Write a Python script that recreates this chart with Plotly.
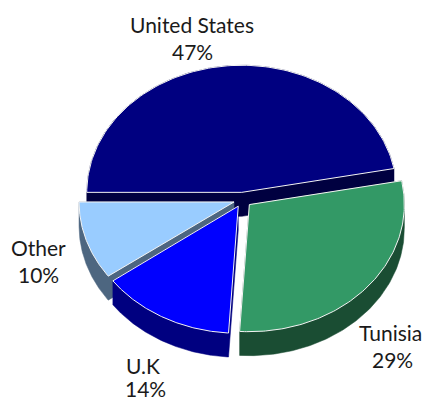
import math
import plotly.graph_objects as go

# Share of total, by country
countries = ["United States", "Tunisia", "U.K", "Other"]
shares = [47, 29, 14, 10]

# Face colours (top) and darker wall colours
top_colors = ["#000080", "#339966", "#0000FF", "#99CCFF"]
side_colors = ["#000040", "#1A4D33", "#000080", "#4D6680"]

# Pie geometry in page pixels (y grows downward)
CX, CY = 242.6, 199.7
RADIUS = 155.0
TILT = 0.82          # vertical squash of the ellipse
DEPTH = 24.0         # thickness of the pie
PULL = 9.0           # explode distance of every slice
START_DEG = 180.0    # first slice starts at the left, slices run clockwise
N_ARC = 120

# Label anchor points (name line, percent line)
label_pos = [
    ((192, 24), (192, 51)),
    ((390, 332), (392, 359)),
    ((143, 365), (145, 388)),
    ((38, 247), (38, 274)),
]


def project(cx, cy, ang_deg, r):
    a = math.radians(ang_deg)
    return cx + r * math.cos(a), cy - r * TILT * math.sin(a)


def hull(points):
    pts = sorted(set(points))
    if len(pts) < 3:
        return pts

    def cross(o, a, b):
        return (a[0] - o[0]) * (b[1] - o[1]) - (a[1] - o[1]) * (b[0] - o[0])

    lower, upper = [], []
    for p in pts:
        while len(lower) >= 2 and cross(lower[-2], lower[-1], p) <= 0:
            lower.pop()
        lower.append(p)
    for p in reversed(pts):
        while len(upper) >= 2 and cross(upper[-2], upper[-1], p) <= 0:
            upper.pop()
        upper.append(p)
    return lower[:-1] + upper[:-1]


total = sum(shares)
slices = []
angle = START_DEG
for i, v in enumerate(shares):
    sweep = 360.0 * v / total
    a0, a1 = angle, angle - sweep
    mid = (a0 + a1) / 2
    vx, vy = project(CX, CY, mid, PULL)
    top = [(vx, vy)]
    for k in range(N_ARC + 1):
        top.append(project(vx, vy, a0 + (a1 - a0) * k / N_ARC, RADIUS))
    depth_key = math.sin(math.radians(mid))
    slices.append((depth_key, i, top))
    angle = a1

fig = go.Figure()

# back slices first so nearer ones are painted over them
for _, i, top in sorted(slices, key=lambda s: -s[0]):
    lowered = [(x, y + DEPTH) for x, y in top]
    body = hull(top + lowered)
    bx = [p[0] for p in body] + [body[0][0]]
    by = [p[1] for p in body] + [body[0][1]]
    fig.add_trace(go.Scatter(
        x=bx, y=by, mode="lines", fill="toself",
        fillcolor=side_colors[i], line=dict(color=side_colors[i], width=0.5),
        hoverinfo="skip", showlegend=False,
    ))
    tx = [p[0] for p in top] + [top[0][0]]
    ty = [p[1] for p in top] + [top[0][1]]
    fig.add_trace(go.Scatter(
        x=tx, y=ty, mode="lines", fill="toself",
        fillcolor=top_colors[i], line=dict(color="#F4F4F4", width=1),
        name=countries[i], hoverinfo="name", showlegend=False,
    ))

annotations = []
for i, (name_xy, pct_xy) in enumerate(label_pos):
    pct = round(100 * shares[i] / total)
    for text, (x, y) in ((countries[i], name_xy), (f"{pct}%", pct_xy)):
        annotations.append(dict(
            x=x, y=y, xref="x", yref="y", text=text, showarrow=False,
            xanchor="center", yanchor="middle",
            font=dict(family="Lato", size=21, color="#1A1A1A"),
        ))

fig.update_layout(
    width=425, height=402,
    margin=dict(l=0, r=0, t=0, b=0),
    paper_bgcolor="white", plot_bgcolor="white",
    xaxis=dict(range=[0, 425], visible=False, fixedrange=True),
    yaxis=dict(range=[402, 0], visible=False, fixedrange=True),
    annotations=annotations,
)

fig.write_html("out.html")
